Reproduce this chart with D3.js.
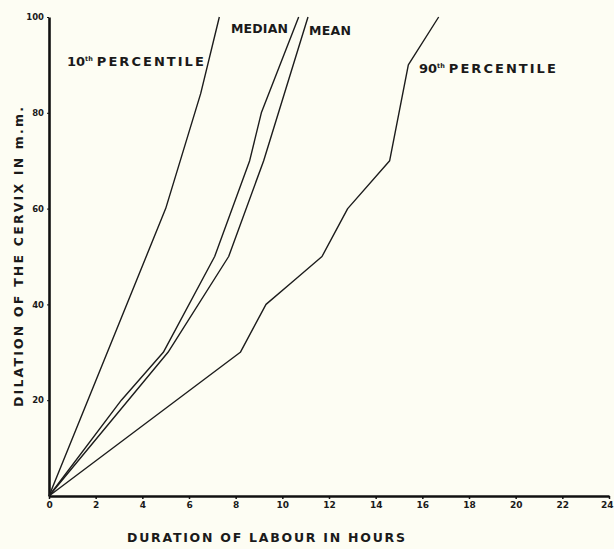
<!DOCTYPE html>
<html>
<head>
<meta charset="utf-8">
<script src="https://cdn.jsdelivr.net/npm/d3@7"></script>
<style>
  body { margin: 0; background: #fdfdf3; }
  svg { display: block; }
  text { font-family: "DejaVu Sans", "Liberation Sans", sans-serif; font-weight: bold; fill: #1a1a1a; }
</style>
</head>
<body>
<script>
// values: [hours, dilation mm]
var p10    = [[0, 0], [5, 60], [6.5, 84], [7.3, 100]];
var median = [[0, 0], [3.1, 20], [4.9, 30], [7.1, 50], [8.6, 70], [9.1, 80], [10.7, 100]];
var mean   = [[0, 0], [5.1, 30], [7.7, 50], [9.2, 70], [11.1, 100]];
var p90    = [[0, 0], [8.2, 30], [9.3, 40], [10.5, 45], [11.7, 50], [12.8, 60], [14.6, 70], [15.4, 90], [16.7, 100]];
var xTicks = [0, 2, 4, 6, 8, 10, 12, 14, 16, 18, 20, 22, 24];
var yTicks = [20, 40, 60, 80, 100];

var width = 614, height = 549;
var margin = {top: 17, right: 5, bottom: 53, left: 49};

const svg = d3.select("body")
    .append("svg")
    .attr("width", width)
    .attr("height", height);

var xscale = d3.scaleLinear()
    .domain([0, 24])
    .range([margin.left, width - margin.right]);

var yscale = d3.scaleLinear()
    .domain([0, 100])
    .range([height - margin.bottom, margin.top]);

// x-axis
var gx = svg.append("g")
    .attr("transform", `translate(0,${height - margin.bottom})`)
    .call(d3.axisBottom(xscale).tickValues(xTicks).tickSize(3).tickPadding(3).tickSizeOuter(0));
gx.select(".domain").attr("stroke", "#111").attr("stroke-width", 2.6);
gx.selectAll(".tick line").attr("stroke", "#111").attr("stroke-width", 1.5);
gx.selectAll(".tick text").style("font-size", "9px").attr("fill", "#1a1a1a");
// last label sits at the page edge
gx.selectAll(".tick text").filter(d => d === 24).attr("text-anchor", "end").attr("x", 4);

// y-axis
var gy = svg.append("g")
    .attr("transform", `translate(${margin.left},0)`)
    .call(d3.axisLeft(yscale).tickValues(yTicks).tickSize(2).tickPadding(3).tickSizeOuter(0));
gy.select(".domain").attr("stroke", "#111").attr("stroke-width", 2.6);
gy.selectAll(".tick line").attr("stroke", "#111");
gy.selectAll(".tick text").style("font-size", "8.5px").attr("fill", "#1a1a1a");

// axis titles
svg.append("text")
    .attr("x", 127)
    .attr("y", 542)
    .attr("textLength", 278)
    .attr("lengthAdjust", "spacing")
    .style("font-size", "12.5px")
    .text("DURATION OF LABOUR IN HOURS");

svg.append("text")
    .attr("transform", "translate(23,407) rotate(-90)")
    .attr("textLength", 300)
    .attr("lengthAdjust", "spacing")
    .style("font-size", "12.5px")
    .text("DILATION OF THE CERVIX IN m.m.");

var line = d3.line()
    .x(d => xscale(d[0]))
    .y(d => yscale(d[1]));

[p10, median, mean, p90].forEach(function(s) {
    svg.append("path")
        .datum(s)
        .attr("fill", "none")
        .attr("stroke", "#1c1c1c")
        .attr("stroke-width", 1.4)
        .attr("stroke-linejoin", "round")
        .attr("d", line);
});

// curve labels
function pctLabel(x, y, num, sup) {
    var t = svg.append("text")
        .attr("x", x)
        .attr("y", y)
        .style("font-size", "13px");
    t.append("tspan").text(num);
    t.append("tspan").attr("dy", -5).style("font-size", "6.5px").text(sup);
    t.append("tspan").attr("dy", 5).attr("dx", 4)
        .attr("textLength", 107).attr("lengthAdjust", "spacing")
        .text("PERCENTILE");
}
pctLabel(67, 66, "10", "th");
pctLabel(419, 73, "90", "th");

svg.append("text")
    .attr("x", 231)
    .attr("y", 33)
    .attr("textLength", 57)
    .attr("lengthAdjust", "spacing")
    .style("font-size", "12.5px")
    .text("MEDIAN");

svg.append("text")
    .attr("x", 309)
    .attr("y", 35)
    .attr("textLength", 42)
    .attr("lengthAdjust", "spacing")
    .style("font-size", "12.5px")
    .text("MEAN");
</script>
</body>
</html>
